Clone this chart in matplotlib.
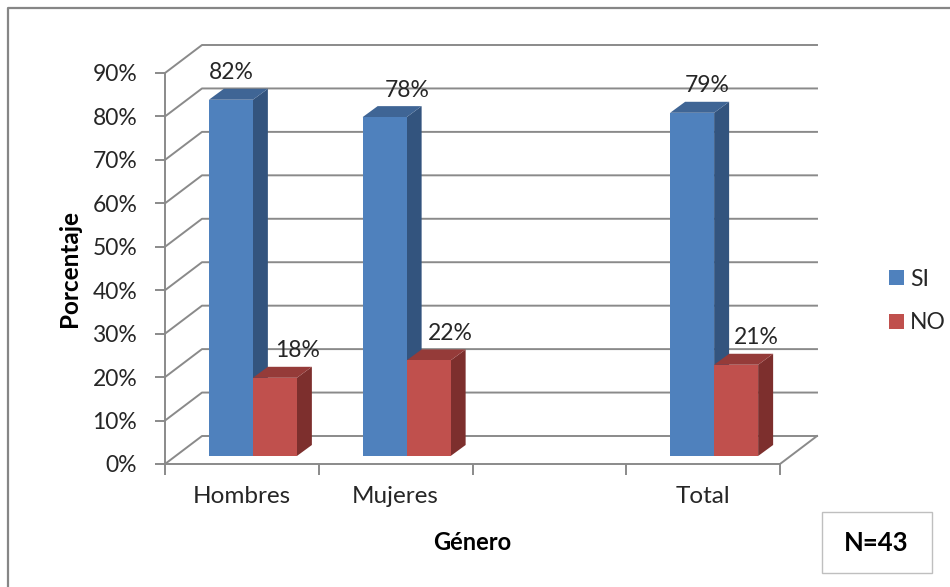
import numpy as np
import matplotlib
matplotlib.use("Agg")
import matplotlib.pyplot as plt
from matplotlib.patches import Polygon, Rectangle
from matplotlib.lines import Line2D

plt.rcParams["font.family"] = ["Lato", "DejaVu Sans"]

# ---- data -------------------------------------------------------------
categories = ["Hombres", "Mujeres", "", "Total"]
si_values = [82, 78, np.nan, 79]
no_values = [18, 22, np.nan, 21]
series_names = ["SI", "NO"]
y_ticks = [0, 10, 20, 30, 40, 50, 60, 70, 80, 90]
sample_note = "N=43"

# ---- style ------------------------------------------------------------
FRONT = {"SI": "#4F81BD", "NO": "#C0504D"}
TOP = {"SI": "#3F6595", "NO": "#953B39"}
SIDE = {"SI": "#33547E", "NO": "#7D2F2D"}
GRID = "#8A8A8A"
TEXT = "#262626"
FS = 16.5

W, H = 950, 587
fig = plt.figure(figsize=(W / 100, H / 100), dpi=100)


def fx(px):
    return px / W


def fy(py):
    return 1 - py / H


ax = fig.add_axes([fx(165), fy(464), fx(780) - fx(165), fy(73) - fy(464)])
ax.set_xlim(0, len(categories))
ax.set_ylim(0, 90)

# conversions from pixel offsets to data units
x_per_px = len(categories) / (780 - 165)
y_per_px = 90 / (464 - 73)

WALL_DX, WALL_DY = 37 * x_per_px, 28 * y_per_px      # depth of the chart floor
PLANE_DX, PLANE_DY = 11 * x_per_px, 8 * y_per_px     # plane the bars stand on
BAR_DX, BAR_DY = 15 * x_per_px, 11 * y_per_px        # depth of each bar
BAR_W = 44 * x_per_px

# ---- walls and gridlines ---------------------------------------------
for t in y_ticks:
    ax.add_line(Line2D([0, WALL_DX, len(categories) + WALL_DX],
                       [t, t + WALL_DY, t + WALL_DY],
                       color=GRID, lw=1.4, clip_on=False, zorder=1))
ax.add_line(Line2D([len(categories), len(categories) + WALL_DX], [0, WALL_DY],
                   color=GRID, lw=1.4, clip_on=False, zorder=1))

# ---- 3D-looking bars --------------------------------------------------
def draw_bar(x0, v, name):
    xa = x0 + PLANE_DX
    xb = xa + BAR_W
    y0 = PLANE_DY
    y1 = v + PLANE_DY
    front = Polygon([(xa, y0), (xb, y0), (xb, y1), (xa, y1)], closed=True,
                    facecolor=FRONT[name], edgecolor="none", zorder=3, clip_on=False)
    top = Polygon([(xa, y1), (xb, y1), (xb + BAR_DX, y1 + BAR_DY), (xa + BAR_DX, y1 + BAR_DY)],
                  closed=True, facecolor=TOP[name], edgecolor="none", zorder=3, clip_on=False)
    side = Polygon([(xb, y0), (xb + BAR_DX, y0 + BAR_DY), (xb + BAR_DX, y1 + BAR_DY), (xb, y1)],
                   closed=True, facecolor=SIDE[name], edgecolor="none", zorder=3, clip_on=False)
    for p in (side, top, front):
        ax.add_patch(p)
    return (xa + xb) / 2, y1


label_dx = {"SI": [0, 23, 0, 15], "NO": [23, 22, 0, 20]}

for i, cat in enumerate(categories):
    center = i + 0.5
    for j, (name, vals) in enumerate(zip(series_names, [si_values, no_values])):
        v = vals[i]
        if np.isnan(v):
            continue
        x0 = center - BAR_W + j * BAR_W
        cx, ty = draw_bar(x0, v, name)
        ax.annotate(f"{v:.0f}%", (cx, ty), xytext=(label_dx[name][i], 27),
                    textcoords="offset pixels", ha="center", va="center",
                    fontsize=FS, color=TEXT, zorder=5, annotation_clip=False)

# ---- axes -------------------------------------------------------------
for s in ("top", "right"):
    ax.spines[s].set_visible(False)
for s in ("left", "bottom"):
    ax.spines[s].set_color(GRID)
    ax.spines[s].set_linewidth(1.4)
    ax.spines[s].set_zorder(2)

ax.set_yticks(y_ticks)
ax.set_yticklabels([f"{t}%" for t in y_ticks])
ax.tick_params(axis="y", direction="out", length=7, width=1.4, color=GRID,
               labelsize=FS, labelcolor=TEXT, pad=13)

ax.set_xticks(range(len(categories) + 1))
ax.set_xticklabels([])
ax.set_xticks([i + 0.5 for i in range(len(categories))], minor=True)
ax.set_xticklabels(categories, minor=True)
ax.tick_params(axis="x", which="major", direction="out", length=8, width=1.4, color=GRID)
ax.tick_params(axis="x", which="minor", length=0, labelsize=17.5, labelcolor=TEXT, pad=16)

ax.set_facecolor("none")
ax.set_xlabel("Género", fontsize=17, fontweight="bold", color="black", labelpad=17)
ax.set_ylabel("Porcentaje", fontsize=17.5, fontweight="bold", color="black", labelpad=8)

# ---- legend -----------------------------------------------------------
handles = [Rectangle((0, 0), 1, 1, facecolor=FRONT[n], edgecolor="none") for n in series_names]
fig.legend(handles, series_names, loc="center left",
           bbox_to_anchor=(fx(868), fy(301)), frameon=False,
           fontsize=FS, labelspacing=1.0, handlelength=0.68, handleheight=0.68,
           handletextpad=0.25, labelcolor=TEXT)

# ---- sample size box ------------------------------------------------------
fig.patches.append(Rectangle((fx(822), fy(573)), fx(932) - fx(822), fy(512) - fy(573),
                             transform=fig.transFigure, facecolor="white",
                             edgecolor="#BFBFBF", lw=1.0))
fig.text(fx(876), fy(543), sample_note, ha="center", va="center",
         fontsize=18.5, fontweight="bold", color="black")

# ---- outer chart border -----------------------------------------------
fig.add_artist(Line2D([fx(8), fx(8), 1.0], [0.0, fy(8), fy(8)],
                      transform=fig.transFigure, color="#868686", lw=1.6))

fig.savefig("out.png", dpi=100, facecolor="white")
